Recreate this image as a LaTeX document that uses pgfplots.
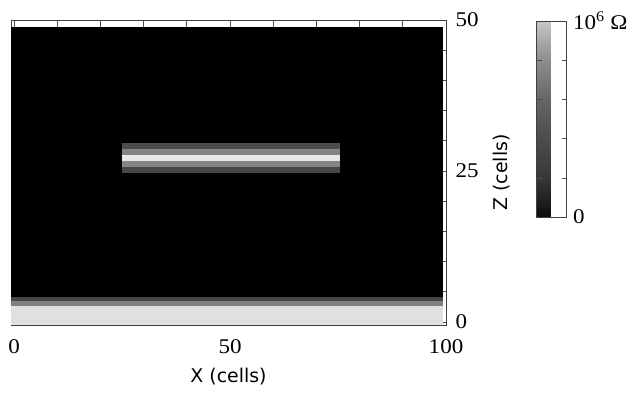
\documentclass[border=0pt]{standalone}
\usepackage{fontspec}
\setmainfont{Liberation Serif}[FakeStretch=1.1]
\newfontfamily\dejavu{DejaVu Sans}
\usepackage{pgfplots}
\pgfplotsset{compat=1.18}
\begin{document}
\begin{tikzpicture}[font=\fontsize{19}{22}\selectfont]
\useasboundingbox (-11bp,-68bp) rectangle (626bp,325bp);
\begin{axis}[
  at={(0,0)}, anchor=south west,
  scale only axis, width=435bp, height=305bp,
  xmin=-0.7, xmax=100, ymin=-0.5, ymax=50,
  axis line style={line width=1pt, black!75},
  xtick={0,50,100}, xticklabels={0,50,100},
  minor xtick={10,20,30,40,60,70,80,90},
  ytick={0,25,50}, yticklabels={0,25,50},
  minor ytick={5,10,15,20,30,35,40,45},
  tick align=inside, major tick length=7bp, minor tick length=7bp,
  tick style={black!70, line width=0.8pt},
  xticklabel pos=lower, yticklabel pos=right,
  xtick pos=both, ytick pos=both,
  xticklabel style={yshift=-11bp, font=\fontsize{21}{24}\selectfont},
  yticklabel style={xshift=6bp, font=\fontsize{21}{24}\selectfont},
  xlabel={\dejavu X (cells)}, ylabel={\dejavu Z (cells)},
  xlabel style={yshift=-8bp},
  ylabel style={yshift=-8bp},
  colormap={bw}{gray(0cm)=(0.05); gray(2cm)=(0.22); gray(4cm)=(0.3); gray(6cm)=(0.4); gray(8cm)=(0.55); gray(10cm)=(0.78)},
  point meta min=0, point meta max=1,
  colorbar right,
  colorbar style={
    at={(parent axis.north east)}, anchor=north west,
    xshift=82bp, yshift=-1bp,
    scale only axis, width=30bp, height=196bp,
    ytick={0,1}, yticklabels={0,{10\textsuperscript{6} Ω}},
    minor ytick={0.2,0.4,0.6,0.8},
    ytick pos=both, yticklabel pos=right,
    tick align=inside, major tick length=0pt, minor tick length=5bp,
    tick style={black!70, line width=0.6pt},
    axis line style={line width=0.8pt, black!75},
    yticklabel style={xshift=3bp, font=\fontsize{21}{24}\selectfont},
  },
]
% background (black cells)
\addplot[fill=black, draw=none] coordinates {(-0.7,-0.5) (99.3,-0.5) (99.3,48.8) (-0.7,48.8)};
% bottom layers
\addplot[fill=black!12, draw=none] coordinates {(-0.7,-0.5) (99.3,-0.5) (99.3,2.6) (-0.7,2.6)};
\addplot[fill=black!50, draw=none] coordinates {(-0.7,2.6) (99.3,2.6) (99.3,3.5) (-0.7,3.5)};
\addplot[fill=black!72, draw=none] coordinates {(-0.7,3.5) (99.3,3.5) (99.3,4.1) (-0.7,4.1)};
% resistive bar
\addplot[fill=black!72, draw=none] coordinates {(25,24.7) (75.5,24.7) (75.5,25.6) (25,25.6)};
\addplot[fill=black!48, draw=none] coordinates {(25,25.6) (75.5,25.6) (75.5,26.6) (25,26.6)};
\addplot[fill=black!9, draw=none] coordinates {(25,26.6) (75.5,26.6) (75.5,27.6) (25,27.6)};
\addplot[fill=black!48, draw=none] coordinates {(25,27.6) (75.5,27.6) (75.5,28.6) (25,28.6)};
\addplot[fill=black!70, draw=none] coordinates {(25,28.6) (75.5,28.6) (75.5,29.6) (25,29.6)};
\end{axis}
\end{tikzpicture}
\end{document}
